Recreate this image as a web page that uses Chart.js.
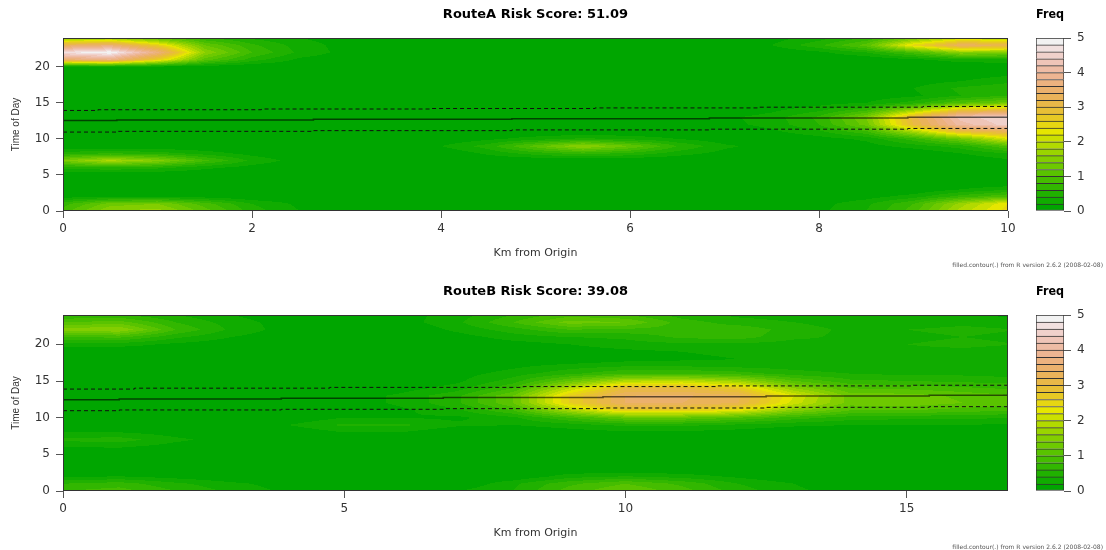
<!DOCTYPE html>
<html>
<head>
<meta charset="utf-8">
<title>Route risk scores</title>
<script src="https://cdn.jsdelivr.net/npm/chart.js@4.4.0/dist/chart.umd.min.js"></script>
<style>
  body { margin: 0; background: #fff; }
  #page { position: relative; width: 1106px; height: 550px; overflow: hidden; background: #fff; }
  .box { position: absolute; }
  .note { position: absolute; right: 3px; font: 6px "DejaVu Sans", sans-serif; color: #555; white-space: nowrap; line-height: 7px; }
</style>
</head>
<body>
<div id="page">
  <div class="box" style="left:0;top:0;width:1071px;height:275px"><canvas id="routeA"></canvas></div>
  <div class="box" style="left:1000px;top:0;width:98px;height:275px"><canvas id="keyA"></canvas></div>
  <div class="box" style="left:0;top:280px;width:1071px;height:270px"><canvas id="routeB"></canvas></div>
  <div class="box" style="left:1000px;top:280px;width:98px;height:270px"><canvas id="keyB"></canvas></div>
  <div class="note" style="top:261px">filled.contour(.) from R version 2.6.2 (2008-02-08)</div>
  <div class="note" style="top:543px">filled.contour(.) from R version 2.6.2 (2008-02-08)</div>
</div>
<script>
// Contour levels of the colour key (25 levels, 0 to 5)
const FREQ_LEVELS = [0, 0.2, 0.4, 0.6, 0.8, 1, 1.2, 1.4, 1.6, 1.8, 2, 2.2, 2.4, 2.6, 2.8, 3,
    3.2, 3.4, 3.6, 3.8, 4, 4.2, 4.4, 4.6, 4.8, 5];
const FREQ_TICKS = [0, 1, 2, 3, 4, 5];

// Time of day of the grid rows, top row first
const HOURS = [24, 23, 22, 21, 20, 19, 18, 17, 16, 15, 14, 13, 12, 11, 10, 9, 8, 7, 6, 5, 4, 3, 2, 1, 0];
const HOUR_MAX = 24;
const HOUR_TICKS = [0, 5, 10, 15, 20];

// Route A
const ROUTE_A_TITLE = 'RouteA Risk Score: 51.09';
const ROUTE_A_KM = [0, 0.5, 1, 1.5, 2, 2.5, 3, 3.5, 4, 4.5, 5, 5.5, 6, 6.5, 7, 7.5, 8, 8.5, 9, 9.5, 10];
const ROUTE_A_KM_MAX = 10;
const ROUTE_A_KM_TICKS = [0, 2, 4, 6, 8, 10];
const ROUTE_A_FREQ = [
    [1.5, 1.6, 1.1, 0.6, 0.35, 0.2, 0.1, 0, 0, 0, 0, 0, 0, 0, 0, 0.1, 0.3, 0.6, 1.3, 2.0, 1.8],
    [3.3, 3.6, 2.6, 1.2, 0.65, 0.3, 0.12, 0.05, 0, 0, 0, 0, 0, 0, 0.1, 0.2, 0.55, 1.1, 2.5, 3.4, 3.2],
    [4.7, 5.0, 3.7, 1.6, 0.8, 0.35, 0.12, 0, 0, 0, 0, 0, 0, 0, 0, 0, 0.15, 0.4, 0.9, 1.6, 1.5],
    [3.5, 3.8, 2.6, 1.1, 0.5, 0.15, 0.05, 0, 0, 0, 0, 0, 0, 0, 0, 0, 0, 0, 0.15, 0.3, 0.3],
    [0.15, 0.15, 0.1, 0.05, 0, 0, 0, 0, 0, 0, 0, 0, 0, 0, 0, 0, 0, 0, 0, 0, 0.1],
    [0, 0, 0, 0, 0, 0, 0, 0, 0, 0, 0, 0, 0, 0, 0, 0, 0, 0, 0, 0.05, 0.15],
    [0, 0, 0, 0, 0, 0, 0, 0, 0, 0, 0, 0, 0, 0, 0, 0, 0, 0, 0.1, 0.2, 0.35],
    [0, 0, 0, 0, 0, 0, 0, 0, 0, 0, 0, 0, 0, 0, 0, 0, 0, 0.05, 0.2, 0.45, 0.55],
    [0, 0, 0, 0, 0, 0, 0, 0, 0, 0, 0, 0, 0, 0, 0, 0, 0, 0.05, 0.15, 0.4, 0.6],
    [0, 0, 0, 0, 0, 0, 0, 0, 0, 0, 0, 0, 0, 0, 0, 0, 0.1, 0.2, 0.5, 1.0, 1.3],
    [0, 0, 0, 0, 0, 0, 0, 0, 0, 0, 0, 0, 0, 0, 0, 0.15, 0.35, 0.75, 1.7, 2.8, 3.0],
    [0, 0, 0, 0, 0, 0, 0, 0, 0, 0, 0, 0, 0, 0.08, 0.15, 0.3, 0.65, 1.4, 3.1, 4.3, 4.6],
    [0, 0, 0, 0, 0, 0, 0, 0, 0, 0, 0, 0, 0, 0.05, 0.12, 0.28, 0.6, 1.3, 3.0, 4.1, 4.5],
    [0, 0, 0, 0, 0, 0, 0, 0, 0, 0, 0, 0, 0, 0, 0, 0.15, 0.35, 0.75, 1.8, 2.9, 3.2],
    [0, 0, 0, 0, 0, 0, 0, 0, 0, 0.15, 0.3, 0.45, 0.35, 0.2, 0.05, 0, 0.1, 0.25, 0.7, 1.3, 2.2],
    [0, 0, 0, 0, 0, 0, 0, 0, 0.2, 0.5, 1.1, 1.65, 1.2, 0.6, 0.25, 0.1, 0.05, 0.1, 0.3, 0.5, 1.0],
    [0.5, 0.6, 0.5, 0.3, 0.12, 0, 0, 0, 0, 0.25, 0.5, 0.7, 0.55, 0.3, 0.12, 0, 0, 0, 0, 0.2, 0.4],
    [1.4, 1.85, 1.5, 0.85, 0.35, 0.1, 0, 0, 0, 0, 0, 0, 0, 0, 0, 0, 0, 0, 0, 0, 0.15],
    [0.45, 0.55, 0.45, 0.25, 0.1, 0, 0, 0, 0, 0, 0, 0, 0, 0, 0, 0, 0, 0, 0, 0, 0],
    [0, 0, 0, 0, 0, 0, 0, 0, 0, 0, 0, 0, 0, 0, 0, 0, 0, 0, 0, 0, 0],
    [0, 0, 0, 0, 0, 0, 0, 0, 0, 0, 0, 0, 0, 0, 0, 0, 0, 0, 0, 0, 0],
    [0, 0, 0, 0, 0, 0, 0, 0, 0, 0, 0, 0, 0, 0, 0, 0, 0, 0, 0, 0.2, 0.35],
    [0.1, 0.15, 0.15, 0.1, 0, 0, 0, 0, 0, 0, 0, 0, 0, 0, 0, 0, 0, 0.1, 0.3, 0.7, 1.0],
    [0.7, 1.3, 1.4, 0.9, 0.4, 0.15, 0, 0, 0, 0, 0, 0, 0, 0, 0, 0, 0.12, 0.35, 0.8, 1.7, 2.4],
    [0.9, 1.6, 1.7, 1.1, 0.5, 0.2, 0.1, 0, 0, 0, 0, 0, 0, 0, 0, 0, 0.15, 0.4, 0.9, 1.9, 2.5]
];
const ROUTE_A_MID_KM = [0, 0.57, 2.65, 4.75, 6.84, 8.94, 10];
const ROUTE_A_MID_HOUR = [12.55, 12.62, 12.72, 12.8, 12.9, 13.0, 13.0];
const ROUTE_A_UPPER_KM = [0, 0.37, 2.1, 3.88, 5.63, 7.35, 9.1, 10];
const ROUTE_A_UPPER_HOUR = [13.95, 14.05, 14.15, 14.22, 14.3, 14.4, 14.5, 14.5];
const ROUTE_A_LOWER_KM = [0, 0.57, 2.65, 4.75, 6.84, 8.94, 10];
const ROUTE_A_LOWER_HOUR = [10.95, 11.05, 11.15, 11.25, 11.35, 11.45, 11.45];

// Route B
const ROUTE_B_TITLE = 'RouteB Risk Score: 39.08';
const ROUTE_B_KM = [0, 1, 2, 3, 4, 5, 6, 7, 8, 9, 10, 11, 12, 13, 14, 15, 16, 17];
const ROUTE_B_KM_MAX = 16.8;
const ROUTE_B_KM_TICKS = [0, 5, 10, 15];
const ROUTE_B_FREQ = [
    [0.6, 0.6, 0.4, 0.2, 0.05, 0, 0.1, 0.3, 0.6, 0.9, 0.8, 0.5, 0.35, 0.3, 0.25, 0.2, 0.2, 0.15],
    [1.0, 1.1, 0.6, 0.3, 0.1, 0, 0.1, 0.35, 0.8, 1.3, 1.2, 0.7, 0.5, 0.4, 0.3, 0.3, 0.35, 0.3],
    [1.5, 1.6, 0.8, 0.35, 0.1, 0, 0, 0.25, 0.5, 0.8, 0.75, 0.7, 0.75, 0.5, 0.35, 0.4, 0.45, 0.4],
    [0.8, 0.85, 0.45, 0.2, 0.05, 0, 0, 0.1, 0.3, 0.4, 0.45, 0.65, 0.7, 0.45, 0.35, 0.35, 0.4, 0.35],
    [0.3, 0.3, 0.15, 0.05, 0, 0, 0, 0, 0.1, 0.2, 0.3, 0.35, 0.35, 0.3, 0.35, 0.4, 0.45, 0.4],
    [0, 0, 0, 0, 0, 0, 0, 0, 0, 0.1, 0.15, 0.2, 0.25, 0.3, 0.35, 0.35, 0.35, 0.3],
    [0, 0, 0, 0, 0, 0, 0, 0, 0, 0, 0.1, 0.15, 0.2, 0.3, 0.35, 0.3, 0.3, 0.25],
    [0, 0, 0, 0, 0, 0, 0, 0, 0.15, 0.3, 0.4, 0.4, 0.35, 0.3, 0.25, 0.25, 0.25, 0.2],
    [0, 0, 0, 0, 0, 0, 0, 0.1, 0.3, 0.55, 0.8, 0.8, 0.7, 0.5, 0.4, 0.35, 0.35, 0.3],
    [0, 0, 0, 0, 0, 0, 0, 0.15, 0.5, 1.2, 1.9, 2.0, 1.7, 1.0, 0.65, 0.6, 0.55, 0.5],
    [0, 0, 0, 0, 0, 0, 0.1, 0.3, 0.8, 2.0, 3.0, 3.0, 2.7, 1.6, 1.0, 0.95, 0.85, 0.75],
    [0, 0, 0, 0, 0, 0.05, 0.25, 0.55, 1.2, 2.6, 3.4, 3.45, 3.25, 2.2, 1.3, 1.3, 1.15, 1.0],
    [0, 0, 0, 0, 0, 0.05, 0.25, 0.55, 1.2, 2.6, 3.4, 3.4, 3.2, 2.1, 1.3, 1.35, 1.2, 1.1],
    [0, 0, 0, 0, 0, 0, 0.15, 0.35, 0.8, 1.8, 2.6, 2.6, 2.3, 1.5, 1.0, 1.0, 0.9, 0.8],
    [0, 0, 0, 0, 0, 0.2, 0.2, 0.15, 0.35, 0.8, 1.2, 1.2, 1.0, 0.7, 0.5, 0.45, 0.45, 0.4],
    [0, 0, 0, 0, 0.2, 0.45, 0.45, 0.25, 0.2, 0.3, 0.45, 0.45, 0.35, 0.25, 0.2, 0.2, 0.2, 0.15],
    [0.2, 0.2, 0.1, 0, 0, 0.2, 0.2, 0, 0, 0.1, 0.15, 0.15, 0.1, 0, 0, 0, 0, 0],
    [0.45, 0.5, 0.25, 0.1, 0, 0, 0, 0, 0, 0, 0, 0, 0, 0, 0, 0, 0, 0],
    [0.2, 0.22, 0.1, 0, 0, 0, 0, 0, 0, 0, 0, 0, 0, 0, 0, 0, 0, 0],
    [0, 0, 0, 0, 0, 0, 0, 0, 0, 0, 0, 0, 0, 0, 0, 0, 0, 0],
    [0, 0, 0, 0, 0, 0, 0, 0, 0, 0, 0, 0, 0, 0, 0, 0, 0, 0],
    [0, 0, 0, 0, 0, 0, 0, 0, 0, 0, 0, 0, 0, 0, 0, 0, 0, 0],
    [0.15, 0.2, 0.1, 0, 0, 0, 0, 0, 0, 0.3, 0.4, 0.3, 0.15, 0, 0, 0, 0, 0],
    [0.6, 0.7, 0.45, 0.25, 0.1, 0, 0, 0, 0.35, 0.75, 1.0, 0.75, 0.4, 0.2, 0, 0, 0, 0],
    [0.8, 0.9, 0.6, 0.35, 0.15, 0, 0, 0.2, 0.4, 0.9, 1.2, 0.9, 0.5, 0.25, 0.1, 0, 0, 0]
];
const ROUTE_B_MID_KM = [0, 1.0, 3.88, 6.76, 9.6, 12.5, 15.4, 16.8];
const ROUTE_B_MID_HOUR = [12.45, 12.55, 12.65, 12.75, 12.85, 12.95, 13.05, 13.05];
const ROUTE_B_UPPER_KM = [0, 1.27, 4.74, 8.18, 11.6, 15.1, 16.8];
const ROUTE_B_UPPER_HOUR = [13.9, 14.02, 14.13, 14.24, 14.33, 14.42, 14.42];
const ROUTE_B_LOWER_KM = [0, 1.0, 3.88, 6.76, 9.6, 12.5, 15.4, 16.8];
const ROUTE_B_LOWER_HOUR = [10.95, 11.05, 11.14, 11.23, 11.32, 11.41, 11.5, 11.5];

Chart.defaults.font.family = "'DejaVu Sans', sans-serif";
Chart.defaults.color = '#333';

// HSV -> RGB, like R's hsv()
function hsvToRgb(h, s, v) {
    const i = Math.floor(h * 6), f = h * 6 - i;
    const p = v * (1 - s), q = v * (1 - f * s), t = v * (1 - (1 - f) * s);
    const rgb = [[v, t, p], [q, v, p], [p, v, t], [p, q, v], [t, p, v], [v, p, q]][i % 6];
    return rgb.map(c => Math.round(c * 255));
}

// Same palette as R's terrain.colors(n)
function terrainColors(n) {
    const k = Math.floor(n / 2), cols = [];
    for (let i = 0; i < k; i++) {
        const f = i / (k - 1);
        cols.push(hsvToRgb(4 / 12 - f * 2 / 12, 1, 0.65 + f * 0.25));
    }
    for (let j = 1; j <= n - k; j++) {
        const f = j / (n - k);
        cols.push(hsvToRgb(2 / 12 - f * 2 / 12, 1 - f, 0.9 + f * 0.05));
    }
    return cols;
}

const PALETTE = terrainColors(FREQ_LEVELS.length - 1);

function levelIndex(value) {
    for (let k = 1; k < FREQ_LEVELS.length - 1; k++) {
        if (value < FREQ_LEVELS[k]) return k - 1;
    }
    return FREQ_LEVELS.length - 2;
}

// Position of a value inside a monotone axis: [cell index, fraction]
function locate(axis, value) {
    const asc = axis[axis.length - 1] > axis[0];
    for (let i = 0; i < axis.length - 1; i++) {
        const a = axis[i], b = axis[i + 1];
        if ((asc && value <= b) || (!asc && value >= b)) {
            return [i, Math.min(1, Math.max(0, (value - a) / (b - a)))];
        }
    }
    return [axis.length - 2, 1];
}

// Plugin: filled contour of the frequency grid, then the plot box
function contourFill(kmAxis, grid) {
    return {
        id: 'contourFill',
        beforeDatasetsDraw(chart) {
            const { ctx, chartArea: area, scales: { x, y } } = chart;
            const w = Math.round(area.right - area.left);
            const h = Math.round(area.bottom - area.top);
            const buffer = document.createElement('canvas');
            buffer.width = w;
            buffer.height = h;
            const bctx = buffer.getContext('2d');
            const img = bctx.createImageData(w, h);
            const cols = [];
            for (let px = 0; px < w; px++) {
                cols.push(locate(kmAxis, x.getValueForPixel(area.left + px + 0.5)));
            }
            for (let py = 0; py < h; py++) {
                const [r, fy] = locate(HOURS, y.getValueForPixel(area.top + py + 0.5));
                const row0 = grid[r], row1 = grid[r + 1];
                for (let px = 0; px < w; px++) {
                    const [c, fx] = cols[px];
                    const top = row0[c] + (row0[c + 1] - row0[c]) * fx;
                    const bottom = row1[c] + (row1[c + 1] - row1[c]) * fx;
                    const rgb = PALETTE[levelIndex(top + (bottom - top) * fy)];
                    const o = (py * w + px) * 4;
                    img.data[o] = rgb[0];
                    img.data[o + 1] = rgb[1];
                    img.data[o + 2] = rgb[2];
                    img.data[o + 3] = 255;
                }
            }
            bctx.putImageData(img, 0, 0);
            ctx.drawImage(buffer, area.left, area.top, area.right - area.left, area.bottom - area.top);
        },
        afterDatasetsDraw(chart) {
            const { ctx, chartArea: a } = chart;
            ctx.save();
            ctx.strokeStyle = '#333';
            ctx.lineWidth = 1;
            ctx.strokeRect(Math.round(a.left) + 0.5, Math.round(a.top) + 0.5,
                Math.round(a.right - a.left) - 1, Math.round(a.bottom - a.top) - 1);
            ctx.restore();
        }
    };
}

function routeLine(km, hour, dashed) {
    return {
        data: km.map((k, i) => ({ x: k, y: hour[i] })),
        borderColor: dashed ? '#111' : 'rgba(0, 0, 0, 0.6)',
        borderWidth: dashed ? 1 : 1.6,
        borderDash: dashed ? [4, 3] : [],
        stepped: true,
        pointRadius: 0,
        fill: false
    };
}

function panelTitle(text, top) {
    return {
        display: true,
        text: text,
        fullSize: false,
        color: '#000',
        font: { size: 13, weight: 'bold' },
        padding: { top: top, bottom: 15.4 }
    };
}

function tickGrid() {
    return { drawOnChartArea: false, drawTicks: true, tickLength: 7, color: '#555', lineWidth: 1 };
}

// Contour panel of one route
function createPanel(canvasId, cfg) {
    return new Chart(document.getElementById(canvasId), {
        type: 'line',
        data: {
            datasets: [
                routeLine(cfg.lowerKm, cfg.lowerHour, true),
                routeLine(cfg.midKm, cfg.midHour, false),
                routeLine(cfg.upperKm, cfg.upperHour, true)
            ]
        },
        options: {
            responsive: true,
            maintainAspectRatio: false,
            animation: false,
            layout: { padding: { left: 0, right: 63, top: 0, bottom: 0 } },
            plugins: {
                legend: { display: false },
                tooltip: { enabled: false },
                title: panelTitle(cfg.title, cfg.titleTop)
            },
            scales: {
                x: {
                    type: 'linear',
                    min: 0,
                    max: cfg.kmMax,
                    afterBuildTicks: s => { s.ticks = cfg.kmTicks.map(v => ({ value: v })); },
                    afterFit: s => { s.height = cfg.xAxisHeight; },
                    grid: tickGrid(),
                    border: { display: false },
                    ticks: { font: { size: 12 }, color: '#333', padding: 4, maxRotation: 0, autoSkip: false },
                    title: {
                        display: true,
                        text: 'Km from Origin',
                        font: { size: 11 },
                        color: '#333',
                        padding: { top: 0, bottom: cfg.xTitleBottom }
                    }
                },
                y: {
                    type: 'linear',
                    min: 0,
                    max: HOUR_MAX,
                    afterBuildTicks: s => { s.ticks = HOUR_TICKS.map(v => ({ value: v })); },
                    afterFit: s => { s.width = 63; },
                    grid: tickGrid(),
                    border: { display: false },
                    ticks: { font: { size: 12 }, color: '#333', padding: 6 },
                    title: {
                        display: true,
                        text: 'Time of Day',
                        font: { family: "'Liberation Sans', sans-serif", size: 10 },
                        color: '#333',
                        padding: { top: 10, bottom: 0 }
                    }
                }
            }
        },
        plugins: [contourFill(cfg.km, cfg.freq)]
    });
}

// Colour key (one floating bar per level)
function createKey(canvasId, titleTop, bottomPad) {
    const datasets = PALETTE.map((rgb, i) => ({
        data: [[FREQ_LEVELS[i], FREQ_LEVELS[i + 1]]],
        backgroundColor: `rgb(${rgb[0]}, ${rgb[1]}, ${rgb[2]})`,
        borderColor: '#333',
        borderWidth: { top: 1, left: 1, right: 1, bottom: i === 0 ? 1 : 0 },
        borderSkipped: false,
        grouped: false,
        barPercentage: 1,
        categoryPercentage: 1
    }));
    return new Chart(document.getElementById(canvasId), {
        type: 'bar',
        data: { labels: ['Freq'], datasets: datasets },
        options: {
            responsive: true,
            maintainAspectRatio: false,
            animation: false,
            layout: { padding: { left: 36, right: 0, top: 0, bottom: bottomPad } },
            plugins: {
                legend: { display: false },
                tooltip: { enabled: false },
                title: panelTitle('Freq', titleTop)
            },
            scales: {
                x: { display: false },
                y: {
                    position: 'right',
                    min: FREQ_LEVELS[0],
                    max: FREQ_LEVELS[FREQ_LEVELS.length - 1],
                    afterBuildTicks: s => { s.ticks = FREQ_TICKS.map(v => ({ value: v })); },
                    afterFit: s => { s.width = 34; },
                    grid: tickGrid(),
                    border: { display: false },
                    ticks: { font: { size: 12 }, color: '#333', padding: 6 }
                }
            }
        }
    });
}

createPanel('routeA', {
    title: ROUTE_A_TITLE, titleTop: 7, xAxisHeight: 64, xTitleBottom: 15.4,
    km: ROUTE_A_KM, kmMax: ROUTE_A_KM_MAX, kmTicks: ROUTE_A_KM_TICKS, freq: ROUTE_A_FREQ,
    midKm: ROUTE_A_MID_KM, midHour: ROUTE_A_MID_HOUR,
    upperKm: ROUTE_A_UPPER_KM, upperHour: ROUTE_A_UPPER_HOUR,
    lowerKm: ROUTE_A_LOWER_KM, lowerHour: ROUTE_A_LOWER_HOUR
});
createKey('keyA', 7, 64);

createPanel('routeB', {
    title: ROUTE_B_TITLE, titleTop: 4, xAxisHeight: 59, xTitleBottom: 10.1,
    km: ROUTE_B_KM, kmMax: ROUTE_B_KM_MAX, kmTicks: ROUTE_B_KM_TICKS, freq: ROUTE_B_FREQ,
    midKm: ROUTE_B_MID_KM, midHour: ROUTE_B_MID_HOUR,
    upperKm: ROUTE_B_UPPER_KM, upperHour: ROUTE_B_UPPER_HOUR,
    lowerKm: ROUTE_B_LOWER_KM, lowerHour: ROUTE_B_LOWER_HOUR
});
createKey('keyB', 4, 59);
</script>
</body>
</html>
